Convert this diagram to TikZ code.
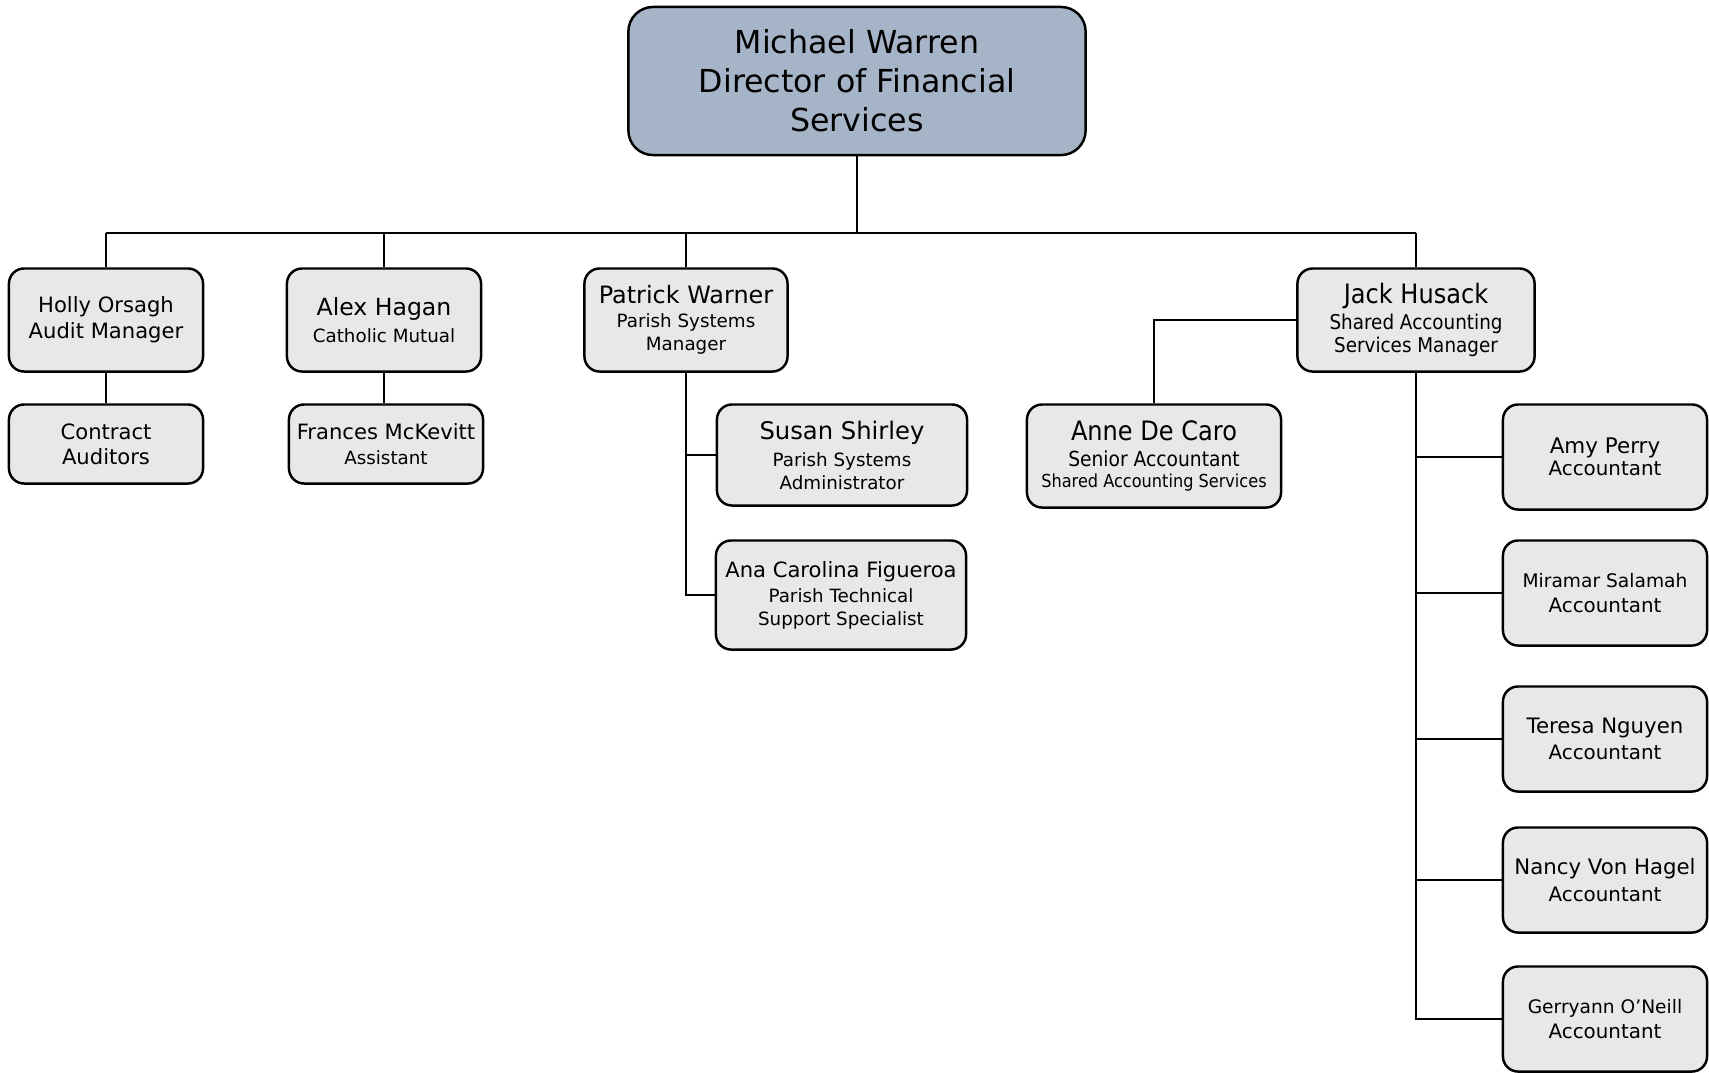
\documentclass[tikz,border=0pt]{standalone}
\usepackage{fontspec}
\setmainfont{DejaVu Sans}
\newfontfamily\narrowfont[FakeStretch=0.9]{DejaVu Sans}
\newcommand{\fsz}[2]{\fontsize{#1}{#2}\selectfont}
\usetikzlibrary{positioning}
\definecolor{headblue}{HTML}{A6B4C8}
\definecolor{cardgray}{HTML}{E8E8E8}

\begin{document}
\begin{tikzpicture}[
    x=0.01cm, y=-0.01cm,
    every node/.style={align=center, inner sep=0pt},
    card/.style={draw=black, line width=0.7pt, fill=cardgray, rounded corners=4.3pt},
    headcard/.style={card, fill=headblue, rounded corners=7pt, minimum width=4.57cm, minimum height=1.48cm},
    toprow/.style={minimum width=1.94cm, minimum height=1.03cm},
    lowrow/.style={minimum width=1.94cm, minimum height=0.79cm},
    acct/.style={minimum width=2.04cm, minimum height=1.05cm},
    link/.style={line width=0.6pt}
  ]
  \useasboundingbox (0,0) rectangle (1709,1072);

  % director
  \node[headcard, font=\fsz{9}{11.1}] (mw) at (857,81) {Michael Warren\\Director of Financial\\Services};

  % first level
  \node[card, toprow, font=\fsz{6}{7.4}] (holly) at (106,320) {Holly Orsagh\\Audit Manager};
  \node[card, toprow, font=\fsz{5.2}{7.8}] (alex) at (384,320) {{\fsz{6.7}{7.8}Alex Hagan}\\Catholic Mutual};
  \node[card, toprow, minimum width=2.03cm, font=\fsz{5.2}{6.6}] (patrick) at (686,320)
    {{\fsz{6.8}{6.6}Patrick Warner}\\[0.3pt]Parish Systems\\Manager};
  \node[card, toprow, minimum width=2.37cm, font=\narrowfont\fsz{5.8}{6.6}] (jack) at (1416,320)
    {{\fsz{7.6}{6.6}Jack Husack}\\[0.6pt]Shared Accounting\\Services Manager};

  % second level
  \node[card, lowrow, font=\fsz{6}{7.1}] (contract) at (106,444) {Contract\\Auditors};
  \node[card, lowrow, font=\fsz{5.2}{7.1}] (frances) at (386,444) {{\fsz{6}{7.1}Frances McKevitt}\\Assistant};
  \node[card, minimum width=2.5cm, minimum height=1.01cm, font=\fsz{5.2}{6.5}] (susan) at (842,455)
    {{\fsz{6.9}{6.5}Susan Shirley}\\[1.2pt]Parish Systems\\Administrator};
  \node[card, minimum width=2.5cm, minimum height=1.09cm, font=\fsz{5.2}{6.5}] (ana) at (841,595)
    {{\fsz{6}{6.5}Ana Carolina Figueroa}\\[0.6pt]Parish Technical\\Support Specialist};
  \node[card, minimum width=2.54cm, minimum height=1.03cm, font=\narrowfont\fsz{5.9}{6.2}] (anne) at (1154,456)
    {{\fsz{7.6}{6.2}Anne De Caro}\\[1.2pt]Senior Accountant\\{\fsz{5.1}{6.2}Shared Accounting Services}};

  % accountants
  \node[card, acct, font=\fsz{5.65}{6.2}] (amy) at (1605,457) {{\fsz{6.1}{6.2}Amy Perry}\\Accountant};
  \node[card, acct, font=\fsz{5.65}{7.1}] (miramar) at (1605,593) {{\fsz{5.3}{7.1}Miramar Salamah}\\Accountant};
  \node[card, acct, font=\fsz{5.65}{7.4}] (teresa) at (1605,739) {{\fsz{6.05}{7.4}Teresa Nguyen}\\Accountant};
  \node[card, acct, font=\fsz{5.65}{7.7}] (nancy) at (1605,880) {{\fsz{6.05}{7.7}Nancy Von Hagel}\\Accountant};
  \node[card, acct, font=\fsz{5.65}{7.1}] (gerry) at (1605,1019) {{\fsz{5.3}{7.1}Gerryann O’Neill}\\Accountant};

  % connectors
  \coordinate (bus) at (0,233);
  \draw[link] (mw.south) -- (mw.south |- bus);
  \draw[link] (holly.north |- bus) -- (jack.north |- bus);
  \foreach \n in {holly,alex,patrick,jack}
    \draw[link] (\n.north) -- (\n.north |- bus);
  \draw[link] (holly.south) -- (contract.north);
  \draw[link] (alex.south) -- (alex.south |- frances.north);
  \draw[link] (patrick.south) |- (ana.west);
  \draw[link] (patrick.south |- susan.west) -- (susan.west);
  \draw[link] (jack.west) -| (anne.north);
  \draw[link] (jack.south) |- (gerry.west);
  \foreach \n in {amy,miramar,teresa,nancy}
    \draw[link] (jack.south |- \n.west) -- (\n.west);
\end{tikzpicture}
\end{document}
